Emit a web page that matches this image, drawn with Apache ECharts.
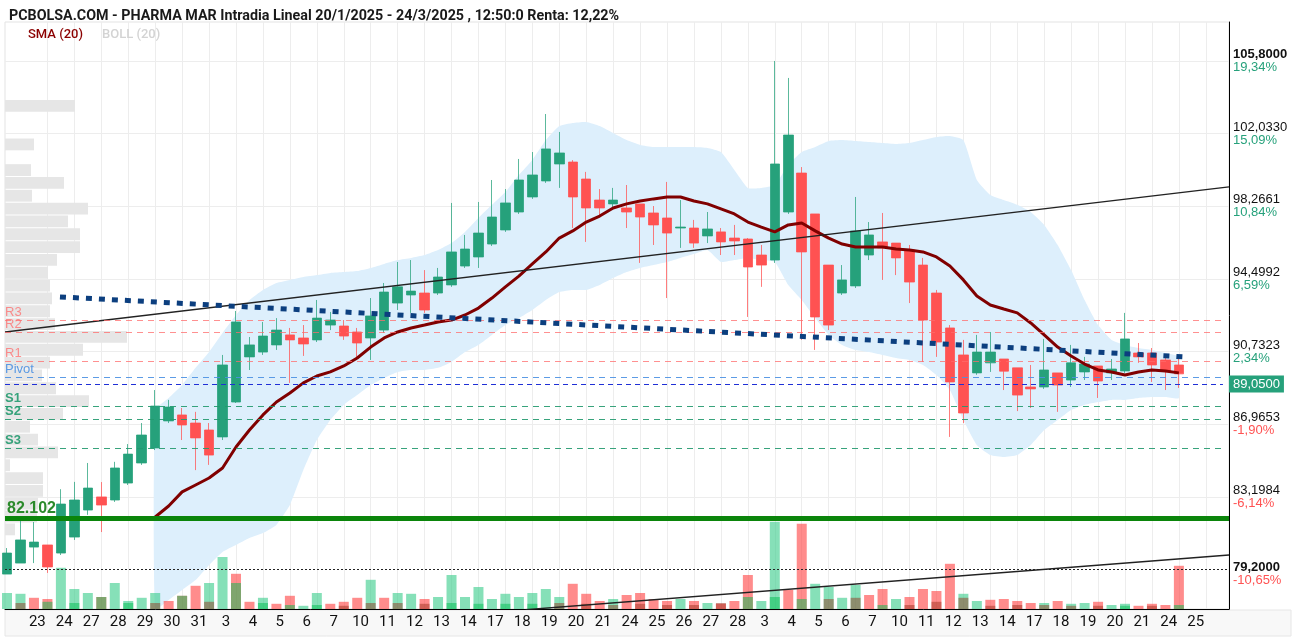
<!DOCTYPE html>
<html><head><meta charset="utf-8">
<script src="https://cdn.jsdelivr.net/npm/echarts@6/dist/echarts.min.js"></script>
<style>html,body{margin:0;padding:0;background:#fff}#c{width:1295px;height:638px}</style>
</head><body><div id="c"></div>
<script>
// ---------------- DATA ----------------
const titleText = 'PCBOLSA.COM - PHARMA MAR Intradia Lineal 20/1/2025 - 24/3/2025 , 12:50:0 Renta: 12,22%';
const dayLabels = ['23','24','27','28','29','30','31','3','4','5','6','7','10','11','12','13','14','17','18','19','20','21','24','25','26','27','28','3','4','5','6','7','10','11','12','13','14','17','18','19','20','21','24','25'];
// [open, close, low, high]
const candles = [
[79.20,80.29,79.20,80.55],[79.77,80.97,79.77,82.00],[80.60,80.86,79.77,81.90],[80.71,79.57,79.26,80.71],
[80.29,82.83,80.19,83.60],[81.12,83.04,80.97,83.98],[82.52,83.66,82.27,84.96],[83.20,82.78,81.38,83.97],
[83.04,84.70,82.94,85.02],[83.92,85.42,83.82,85.94],[84.96,86.41,84.86,87.03],[85.74,87.91,85.63,88.74],
[87.14,87.86,87.03,88.23],[87.45,86.93,86.15,87.81],[87.03,86.26,84.59,87.61],[86.67,85.37,84.86,87.03],
[86.31,90.04,86.15,90.56],[88.12,92.27,88.07,92.84],[90.46,91.08,89.78,91.49],[90.71,91.54,90.56,92.27],
[91.08,91.85,90.82,92.47],[91.60,91.34,89.11,91.96],[91.44,91.13,90.51,92.11],[91.34,92.47,91.23,93.41],
[92.11,92.37,91.85,92.79],[92.06,91.54,91.34,92.37],[91.75,91.18,90.40,91.96],[91.44,92.58,90.30,93.51],
[91.85,93.82,91.70,94.29],[93.25,94.09,92.89,95.38],[93.67,93.87,92.74,95.48],[93.77,92.89,92.74,94.96],
[93.77,94.60,93.67,95.07],[94.19,95.90,94.09,98.44],[95.17,96.05,95.07,96.78],[95.64,96.88,95.07,98.49],
[96.31,97.71,96.21,99.63],[97.04,98.44,96.94,99.16],[97.97,99.63,97.87,100.72],[98.75,99.89,98.65,101.08],
[99.58,101.24,99.48,103.05],[100.46,101.03,99.22,102.12],[100.56,98.75,97.14,100.66],[99.68,98.18,96.42,100.05],
[98.59,98.18,97.82,99.16],[98.39,98.59,98.08,99.22],[98.18,97.97,97.14,99.37],[98.39,97.71,95.33,98.39],
[97.92,97.30,96.26,98.28],[97.66,96.88,93.51,99.53],[97.14,97.19,96.11,98.59],[97.14,96.36,96.11,97.56],
[96.73,97.09,96.36,97.97],[96.94,96.42,95.74,97.14],[96.62,96.47,95.74,97.30],[96.57,95.12,92.53,96.62],
[95.74,95.22,94.09,96.26],[95.48,100.46,95.33,105.80],[97.97,101.96,97.87,104.92],[99.99,95.90,91.34,100.30],
[97.87,92.53,90.82,97.87],[95.22,92.11,91.85,95.22],[93.77,94.45,93.67,95.22],[94.14,96.99,94.03,98.75],
[95.74,96.78,95.48,97.45],[96.42,96.11,94.45,97.92],[96.36,95.59,94.70,96.36],[96.00,94.34,93.25,96.26],
[95.22,92.37,90.20,95.59],[93.77,91.23,90.46,93.93],[91.96,89.16,86.31,92.11],[90.56,87.55,87.03,91.34],
[89.63,90.71,89.53,91.60],[90.15,90.71,89.68,91.75],[90.35,89.72,88.74,90.35],[89.89,88.48,87.65,89.89],
[88.90,88.80,87.81,90.04],[88.90,89.78,88.80,91.39],[89.63,89.00,87.61,89.63],[89.26,90.15,88.90,91.08],
[89.68,90.09,89.26,90.46],[89.99,89.21,88.33,89.99],[89.63,89.83,89.26,90.35],[89.73,91.39,89.63,92.74],
[90.66,90.46,90.15,91.18],[90.66,90.04,89.16,90.92],[90.30,89.73,88.74,90.40],[90.04,89.58,88.85,90.40]
];
const volumes = [40,38,28,25,103,50,40,30,65,20,28,40,20,33,58,65,130,88,18,28,13,33,8,40,13,18,28,73,28,40,
38,25,30,85,30,55,25,38,30,40,50,30,63,38,20,25,35,40,25,20,25,20,15,13,20,85,20,218,48,213,
63,55,28,60,35,50,25,30,50,45,113,38,20,23,25,20,15,15,20,13,15,18,10,13,8,13,10,108];
const volumeUp = [1,1,0,0,1,1,1,0,1,1,1,1,0,0,0,1,1,0,0,1,0,0,1,1,0,0,0,1,0,1,
1,0,1,1,1,1,1,1,1,1,1,1,0,0,0,1,0,0,0,0,1,0,1,0,0,0,1,1,0,0,
1,1,1,1,0,0,1,0,0,0,0,1,1,0,0,0,0,1,0,1,1,0,1,1,0,0,0,0];
// second (darker) volume series drawn over the first one
const volumes2 = [0,15,0,18,0,15,0,30,0,15,0,15,0,33,0,18,0,65,0,15,0,10,0,10,0,8,0,15,0,15,
0,13,0,15,0,13,0,13,0,13,0,15,0,13,0,10,0,13,0,10,0,10,0,15,0,30,0,30,0,25,
0,25,0,28,0,10,0,10,0,18,0,28,0,8,0,10,0,10,0,8,0,8,0,8,0,8,0,10];
const volumes2Up = [0,0,0,1,0,1,0,1,0,1,0,0,0,1,0,0,0,1,0,1,0,1,0,1,0,0,0,0,0,0,
0,0,0,1,0,1,0,1,0,1,0,0,0,0,0,0,0,0,0,0,0,0,0,0,0,1,0,1,0,1,
0,0,0,0,0,1,0,0,0,0,0,0,0,0,0,0,0,0,0,0,0,0,0,1,0,0,0,1];
const smaStart = 11;
const sma20 = [82.16,82.73,83.46,83.82,84.18,84.70,85.79,86.67,87.45,88.12,88.59,89.11,89.47,89.68,89.99,90.40,
90.97,91.44,91.75,91.96,92.11,92.27,92.37,92.63,92.99,93.51,94.09,94.65,95.28,95.90,96.62,96.99,97.45,97.76,
98.18,98.39,98.54,98.65,98.75,98.75,98.54,98.39,98.13,97.87,97.45,97.19,96.94,97.30,97.40,96.99,96.62,96.31,
96.16,96.16,96.16,96.05,96.00,95.90,95.64,95.17,94.45,93.62,93.15,92.94,92.74,92.22,91.60,90.97,90.51,90.09,
89.78,89.68,89.52,89.68,89.78,89.73,89.63];
const bollStart = 11;
const bollUpper = [87.71,88.33,89.00,89.89,90.71,91.70,92.63,93.41,93.93,94.29,94.45,94.60,94.70,94.81,94.86,94.91,
95.07,95.28,95.48,95.59,95.74,96.00,96.36,96.94,97.66,98.34,99.01,99.89,100.67,101.70,102.43,102.59,102.64,102.43,
102.07,101.70,101.45,101.34,101.34,101.34,101.34,101.29,101.08,100.15,99.22,99.22,99.37,100.41,101.08,101.34,
101.65,101.70,101.65,101.60,101.55,101.50,101.55,101.70,101.86,101.91,101.70,99.63,98.85,98.59,98.34,97.97,
97.30,96.26,94.96,93.41,92.11,91.34,91.08,90.92,90.82,90.66,90.46];
const bollLower = [76.82,77.86,78.38,78.89,79.67,80.35,80.71,81.07,81.33,81.75,82.78,84.59,86.15,87.19,87.97,88.48,
89.00,89.37,89.68,89.78,89.78,89.89,90.20,90.71,91.08,91.60,92.11,92.47,92.89,93.41,93.82,93.93,93.93,94.19,
94.55,94.86,95.07,95.22,95.38,95.59,95.79,96.00,95.38,95.48,95.59,95.48,95.38,94.19,93.41,92.47,91.60,91.08,
90.82,90.71,90.56,90.40,90.30,90.04,89.52,88.74,87.19,85.89,85.37,85.27,85.37,85.89,86.67,87.19,87.71,87.97,
88.12,88.23,88.23,88.33,88.38,88.38,88.33];
const priceTicks = [79.2, 83.1984, 86.9653, 90.7323, 94.4992, 98.2661, 102.033, 105.8];
const priceTickPct = ['-10,65%','-6,14%','-1,90%','2,34%','6,59%','10,84%','15,09%','19,34%'];
const lastPrice = 89.05;
const pivotNames = ['R3','R2','R1','Pivot','S1','S2','S3'];
const pivotValues = [92.37, 91.75, 90.25, 89.42, 87.92, 87.24, 85.74];
const supportLevel = 82.102;
const dottedLevel = 79.47;
const trendUpper = [[-0.15, 91.75], [90.72, 99.27]];
const trendLower = [[38.5, 77.35], [90.72, 80.19]];
const trendDotted = [[3.93, 93.57], [87.45, 90.46]];
// volume profile, 40 price bins from 105.8 (top) to 79.2 (bottom)
const profileVolume = [0,0,0,140,0,0,58,0,52,118,54,166,126,150,150,104,86,90,94,90,100,244,156,90,74,102,168,116,50,66,106,10,76,76,66,64,20,0,0,0];

// ---------------- CHART ----------------
const GREEN = '#26a17b', RED = '#ff5252';
const chart = echarts.init(document.getElementById('c'), null, {renderer: 'canvas', width: 1295, height: 638});
const xMin = -0.15, xMax = 90.72, lineEnd = 90.27;
const labelPos = dayLabels.map((d, k) => 2 * k + 2.25);
const gridPos = []; for (let k = 1; k <= dayLabels.length; k++) gridPos.push(2 * k + 1);
const candleData = candles.map((c, i) => [i, c[0], c[1], c[2], c[3]]);
const volData = volumes.map((v, i) => ({value: [i, v], itemStyle: {color: volumeUp[i] ? 'rgba(60,205,140,0.62)' : 'rgba(255,70,70,0.62)'}}));
const vol2Data = volumes2.map((v, i) => ({value: [i, v], itemStyle: {color: volumes2Up[i] ? 'rgba(0,190,80,0.5)' : 'rgba(150,40,20,0.45)'}}));
const smaData = sma20.map((v, k) => [k + smaStart, v]);
const pctColor = p => p.charAt(0) === '-' ? 'neg' : 'pos';

const pivotColors = {R3: '#ff6b6b', R2: '#ff6b6b', R1: '#ff6b6b', Pivot: '#4a90e2', S1: '#22996e', S2: '#22996e', S3: '#22996e'};
const markLines = pivotValues.map((v, j) => {
  const n = pivotNames[j];
  return [{coord: [xMin, v], lineStyle: {color: pivotColors[n], type: [6, 5], width: 1, opacity: n.charAt(0) === 'R' ? 0.75 : 0.9},
    label: {show: true, formatter: n, position: 'insideStartTop', distance: [0, 1], color: pivotColors[n], fontSize: 13,
      fontFamily: 'Liberation Sans', fontWeight: n.charAt(0) === 'S' ? 'bold' : 'normal'}}, {coord: [lineEnd, v]}];
});
markLines.push([{coord: [xMin, lastPrice], lineStyle: {color: '#1f2fd6', type: [5, 4], width: 1},
  label: {show: true, position: 'end', distance: 6, formatter: lastPrice.toFixed(4).replace('.', ','), color: '#fff',
    backgroundColor: GREEN, padding: [2, 4, 2, 4], fontSize: 13, fontFamily: 'Liberation Sans'}}, {coord: [lineEnd, lastPrice]}]);
markLines.push([{coord: [xMin, supportLevel], lineStyle: {color: '#0b850b', type: 'solid', width: 5},
  label: {show: true, position: 'insideStartTop', distance: [2, 2], formatter: String(supportLevel), color: '#2b8a2b', fontSize: 16,
    fontWeight: 'bold', fontFamily: 'Liberation Sans'}}, {coord: [xMax, supportLevel]}]);
markLines.push([{coord: [xMin, dottedLevel], lineStyle: {color: '#222', type: [2, 2], width: 1}, label: {show: false}}, {coord: [xMax, dottedLevel]}]);

const option = {
  animation: false,
  backgroundColor: '#fff',
  title: {text: titleText, left: 4, top: 4, textStyle: {fontSize: 14.3, fontWeight: 'bold', color: '#1a1a1a', fontFamily: 'Roboto'}},
  legend: {left: 17, top: 23, itemWidth: 0, itemHeight: 0, itemGap: 14, selectedMode: false,
    data: [{name: 'SMA (20)', textStyle: {color: '#8b0000'}}, {name: 'BOLL (20)', textStyle: {color: '#d3d3d3'}}],
    textStyle: {fontSize: 13, fontFamily: 'Roboto', fontWeight: 500}},
  graphic: {elements: [{type: 'rect', shape: {x: 5, y: 610, width: 1286, height: 26}, style: {fill: '#f8f8f8', stroke: '#e6e6e6'}, z: -10, silent: true}]},
  grid: [
    {left: 5, right: 66, top: 22, bottom: 29, show: true, borderColor: '#e3e3e3', borderWidth: 1, backgroundColor: 'transparent'},
    {left: 5, right: 66, top: 61, bottom: 63.7, show: false}
  ],
  xAxis: [
    {type: 'value', gridIndex: 0, min: xMin, max: xMax,
      axisLine: {show: true, onZero: false, lineStyle: {color: '#000', width: 1}}, axisTick: {show: false, customValues: gridPos},
      splitLine: {show: true, lineStyle: {color: '#ededed', width: 1}},
      axisLabel: {customValues: labelPos, margin: 6, color: '#111', fontSize: 15, fontFamily: "'Liberation Sans Narrow', Roboto",
        formatter: v => dayLabels[Math.round((v - 2.25) / 2)] || ''}},
    {type: 'value', gridIndex: 1, min: 0, max: 2448, show: false}
  ],
  yAxis: [
    {type: 'value', gridIndex: 0, position: 'right', min: 77.39, max: 107.82, scale: true,
      axisLine: {show: true, onZero: false, lineStyle: {color: '#000', width: 1}},
      axisTick: {show: false, customValues: priceTicks.slice(1)},
      splitLine: {show: true, lineStyle: {color: '#ededed', width: 1}},
      axisLabel: {customValues: priceTicks, margin: 4, align: 'left', fontFamily: 'Liberation Sans',
        formatter: v => {
          let k = 0, best = 1e9;
          priceTicks.forEach((t, j) => { const d = Math.abs(t - v); if (d < best) { best = d; k = j; } });
          const txt = priceTicks[k].toFixed(4).replace('.', ',');
          const b = (k === 0 || k === priceTicks.length - 1) ? 'pb' : 'p';
          return '{' + b + '|' + txt + '}\n{' + pctColor(priceTickPct[k]) + '|' + priceTickPct[k] + '}';
        },
        rich: {
          p: {fontSize: 13, color: '#111', lineHeight: 13, fontFamily: 'Liberation Sans'},
          pb: {fontSize: 13, color: '#111', lineHeight: 13, fontWeight: 'bold', fontFamily: 'Liberation Sans'},
          pos: {fontSize: 13, color: '#26a17b', lineHeight: 13, fontFamily: 'Liberation Sans'},
          neg: {fontSize: 13, color: '#ff5252', lineHeight: 13, fontFamily: 'Liberation Sans'}
        }}},
    {type: 'value', gridIndex: 0, min: 0, max: 1467.5, show: false, axisLine: {onZero: false}},
    {type: 'category', gridIndex: 1, inverse: true, data: profileVolume.map((_, k) => k), show: false}
  ],
  series: [
    {type: 'bar', name: 'profile', xAxisIndex: 1, yAxisIndex: 2, data: profileVolume, barCategoryGap: '8%',
      itemStyle: {color: '#e6e6e6'}, z: 1, silent: true},
    {type: 'custom', name: 'BOLL (20)', xAxisIndex: 0, yAxisIndex: 0, z: 1, silent: true, data: [[bollStart, bollUpper[0]]],
      encode: {x: 0, y: 1}, itemStyle: {color: '#d3d3d3'},
      renderItem: (params, api) => {
        const up = bollUpper.map((v, k) => api.coord([k + bollStart, v]));
        const lo = bollLower.map((v, k) => api.coord([k + bollStart, v])).reverse();
        const cs = params.coordSys;
        const pts = echarts.graphic.clipPointsByRect(up.concat(lo), {x: cs.x, y: cs.y, width: cs.width, height: cs.height});
        return {type: 'polygon', shape: {points: pts, smooth: 0.15}, style: {fill: '#ddeffc'}};
      }},
    {type: 'bar', name: 'vol', xAxisIndex: 0, yAxisIndex: 1, data: volData, barWidth: 10, barGap: '-100%', z: 2, silent: true},
    {type: 'bar', name: 'vol2', xAxisIndex: 0, yAxisIndex: 1, data: vol2Data, barWidth: 10, barGap: '-100%', z: 2, silent: true},
    {type: 'candlestick', name: 'price', xAxisIndex: 0, yAxisIndex: 0, data: candleData, encode: {x: 0, y: [1, 2, 3, 4]},
      barWidth: 10, z: 3, silent: true,
      itemStyle: {color: GREEN, color0: RED, borderColor: 'rgba(38,161,123,0.75)', borderColor0: 'rgba(255,82,82,0.75)', borderWidth: 1}},
    {type: 'line', name: 'SMA (20)', xAxisIndex: 0, yAxisIndex: 0, data: smaData, showSymbol: false, symbol: 'none', z: 4,
      lineStyle: {color: '#800000', width: 3}, itemStyle: {color: '#8b0000'}, silent: true},
    {type: 'line', name: 'trendUpper', data: trendUpper, showSymbol: false, symbol: 'none', z: 4, silent: true,
      lineStyle: {color: '#222', width: 1.3}},
    {type: 'line', name: 'trendLower', data: trendLower, showSymbol: false, symbol: 'none', z: 4, silent: true,
      lineStyle: {color: '#222', width: 1.3}},
    {type: 'line', name: 'trendDotted', data: trendDotted, showSymbol: false, symbol: 'none', z: 5, silent: true,
      lineStyle: {color: '#0c3f7f', width: 5, type: [6, 7]}},
    {type: 'line', name: 'levels', data: [], z: 5, silent: true,
      markLine: {symbol: ['none', 'none'], silent: true, animation: false, data: markLines}}
  ]
};
chart.setOption(option);
</script>
</body></html>
